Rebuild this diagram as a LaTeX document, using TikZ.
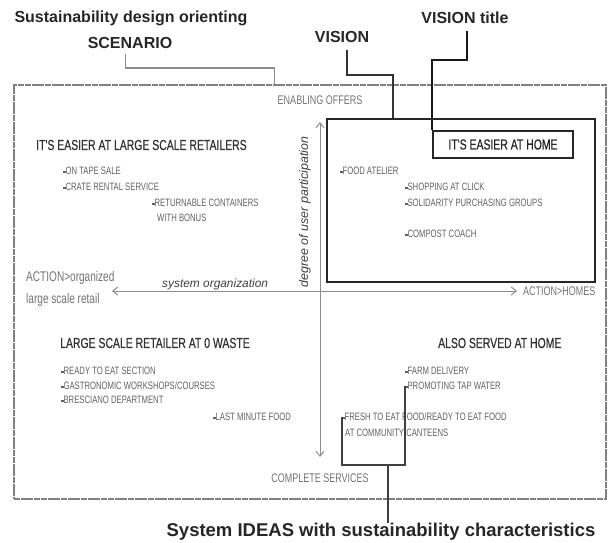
\documentclass[tikz,border=0pt]{standalone}
\usepackage{fontspec}
\setmainfont{Liberation Sans}
\newfontfamily\hand[FakeStretch=0.72]{Liberation Sans}
\newfontfamily\handb[FakeStretch=0.72,FakeBold=0.6]{Liberation Sans}
\usetikzlibrary{arrows.meta}
\newcommand{\bul}{\raisebox{0.25ex}{\rule{2.4pt}{2.2pt}}}
\begin{document}
\begin{tikzpicture}[x=1pt,y=-1pt,
  lbl/.style={font=\bfseries\fontsize{16}{18}\selectfont, text=black!85, inner sep=0, align=center},
  hand/.style={font=\hand\fontsize{10.7}{12}\selectfont, text=black!62, anchor=west, inner sep=0},
  ttl/.style={font=\handb\fontsize{14.5}{16}\selectfont, text=black!80, anchor=west, inner sep=0},
  axlbl/.style={font=\hand\fontsize{12.5}{14}\selectfont, text=black!55, inner sep=0},
  ital/.style={font=\itshape\fontsize{11.9}{13}\selectfont, text=black!75, inner sep=0},
  axis/.style={draw=black!45, line width=1pt, {Straight Barb[length=5pt,width=8pt]}-{Straight Barb[length=5pt,width=8pt]}},
  boxline/.style={draw=black!85, line width=1.8pt}]
\useasboundingbox (0,0) rectangle (610,543);
% outer scenario frame
\node[draw=black!50, line width=1.7pt, dash pattern=on 6pt off 0.7pt, minimum width=592pt, minimum height=414pt, inner sep=0] (outer) at (310,292) {};
% vision box and title box
\node[boxline, minimum width=268pt, minimum height=163pt, inner sep=0] (vision) at (461,200.5) {};
\node[boxline, minimum width=140pt, minimum height=27pt, inner sep=0, font=\handb\fontsize{14.5}{16}\selectfont, text=black!85] (vtitle) at (503,144.5) {IT'S EASIER AT HOME};
% axes
\coordinate (vt) at (320,122);
\coordinate (vb) at (320,457);
\coordinate (hl) at (112,291);
\coordinate (hr) at (517,291);
\draw[axis] (vt) -- (vb);
\draw[axis] (hl) -- (hr);
\node[axlbl] (en) at (320,100) {ENABLING OFFERS};
\node[axlbl] (cs) at (320,478) {COMPLETE SERVICES};
\node[axlbl, anchor=west] (ah) at (523,291) {ACTION>HOMES};
\node[axlbl, font=\hand\fontsize{14}{16}\selectfont, anchor=west] (ao1) at (26,278) {ACTION>organized};
\node[axlbl, font=\hand\fontsize{14}{16}\selectfont, anchor=west] (ao2) at (26,300) {large scale retail};
\node[ital, anchor=west] (so) at (162,284) {system organization};
\node[ital, font=\itshape\fontsize{12.4}{14}\selectfont, rotate=90] (dp) at (305,212) {degree of user participation};
% quadrant texts
\node[ttl] (t1) at (36,145) {IT'S EASIER AT LARGE SCALE RETAILERS};
\node[hand] (a1) at (63,171) {\bul ON TAPE SALE};
\node[hand] (a2) at (63,187) {\bul CRATE RENTAL SERVICE};
\node[hand] (a3) at (152,203) {\bul RETURNABLE CONTAINERS};
\node[hand] (a4) at (157,218) {WITH BONUS};
\node[hand] (b1) at (340,171) {\bul FOOD ATELIER};
\node[hand] (b2) at (405,187) {\bul SHOPPING AT CLICK};
\node[hand] (b3) at (405,203) {\bul SOLIDARITY PURCHASING GROUPS};
\node[hand] (b4) at (405,234) {\bul COMPOST COACH};
\node[ttl] (t3) at (60,343) {LARGE SCALE RETAILER AT 0 WASTE};
\node[hand] (c1) at (61,371) {\bul READY TO EAT SECTION};
\node[hand] (c2) at (61,386) {\bul GASTRONOMIC WORKSHOPS/COURSES};
\node[hand] (c3) at (61,400) {\bul BRESCIANO DEPARTMENT};
\node[hand] (c4) at (213,417) {\bul LAST MINUTE FOOD};
\node[ttl] (t4) at (438,343) {ALSO SERVED AT HOME};
\node[hand] (d1) at (405,371) {\bul FARM DELIVERY};
\node[hand] (d2) at (405,386) {\bul PROMOTING TAP WATER};
\node[hand] (d3) at (342,417) {\bul FRESH TO EAT FOOD/READY TO EAT FOOD};
\node[hand] (d4) at (345,433) {AT COMMUNITY CANTEENS};
% annotation labels
\node[lbl] (scen1) at (131,18) {Sustainability design orienting};
\node[lbl] (scen2) at (130,43) {SCENARIO};
\node[lbl] (vis) at (342,37) {VISION};
\node[lbl] (vist) at (465,18) {VISION title};
\node[lbl, font=\bfseries\fontsize{18.5}{20}\selectfont] (ideas) at (381,532) {System IDEAS with sustainability characteristics};
% leaders
\coordinate (sc1) at (125,54);
\coordinate (sc2) at (274,68);
\coordinate (vi1) at (347,50);
\coordinate (vi2) at (393,75);
\coordinate (vt1) at (467,31);
\coordinate (vt2) at (432,60);
\coordinate (bk) at (342,465);
\coordinate (stem) at (388,465);
\draw[draw=black!45, line width=1pt] (sc1) |- (sc2) -- (sc2 |- outer.north);
\draw[draw=black!80, line width=1.6pt] (vi1) |- (vi2) -- (vi2 |- vision.north);
\draw[draw=black!90, line width=2.4pt] (vt1) |- (vt2) -- (vt2 |- vtitle.north);
\draw[draw=black!75, line width=1.8pt] (d3.west) -- (bk) -| (d2.west);
\draw[draw=black!75, line width=1.8pt] (stem) -- (stem |- ideas.north);
\end{tikzpicture}
\end{document}
